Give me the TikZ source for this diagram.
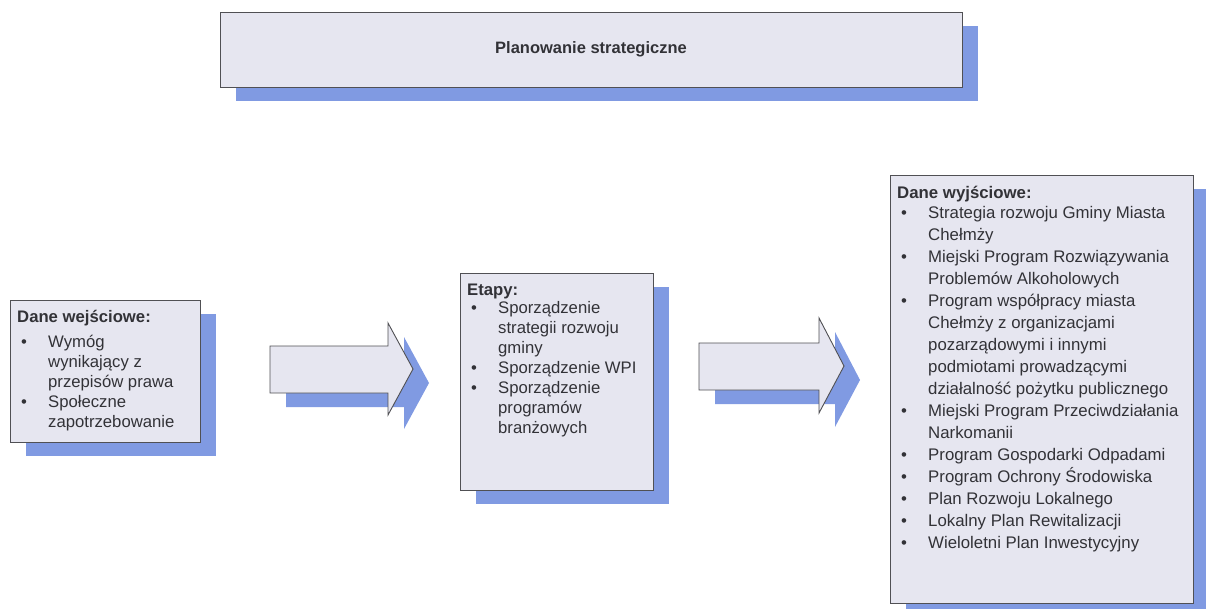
\documentclass[tikz,border=0pt]{standalone}
\usepackage{fontspec}
\setmainfont{Liberation Sans}
\usepackage{array}
\usetikzlibrary{positioning,calc,shadows}
\definecolor{boxfill}{RGB}{230,230,240}
\definecolor{shadowblue}{RGB}{128,154,226}
\definecolor{linegray}{RGB}{80,80,84}
\definecolor{textgray}{RGB}{50,50,55}
\newcommand{\blt}{\hspace{4pt}\textbullet}

\begin{document}
\begin{tikzpicture}[x=1pt, y=-1pt,
    panel/.style={draw=linegray, fill=boxfill, line width=0.9pt, inner sep=0pt,
      drop shadow={shadow xshift=16pt, shadow yshift=-14pt, fill=shadowblue, opacity=1}},
    list/.style={anchor=north west, inner sep=0pt, text=textgray, align=left,
      font=\fontsize{16.7pt}{20pt}\selectfont},
    blockarrow/.style={panel}]
    \useasboundingbox (0,0) rectangle (1206,608);

    \node[panel, minimum width=742pt, minimum height=75pt, text=textgray,
      font=\fontsize{16.5pt}{20pt}\selectfont\bfseries] (plan) at (591,49.5) {Planowanie strategiczne};

    % dane wejsciowe
    \node[panel, minimum width=190pt, minimum height=142pt, anchor=north west] (wej) at (10,300) {};
    \node[list] (wejtxt) at ($(wej.north west)+(7,8)$) {%
      \begin{tabular}{@{}p{31pt}@{}l@{}}
        \multicolumn{2}{@{}l@{}}{\bfseries Dane wejściowe:}\\[5pt]
        \blt & Wymóg\\
             & wynikający z\\
             & przepisów prawa\\
        \blt & Społeczne\\
             & zapotrzebowanie
      \end{tabular}};

    % etapy
    \node[panel, minimum width=193pt, minimum height=217pt, anchor=north west] (etapy) at (460,273) {};
    \node[list] (etapytxt) at ($(etapy.north west)+(7,8)$) {%
      \begin{tabular}{@{}p{31pt}@{}l@{}}
        \multicolumn{2}{@{}l@{}}{\bfseries Etapy:}\\[-2pt]
        \blt & Sporządzenie\\
             & strategii rozwoju\\
             & gminy\\
        \blt & Sporządzenie WPI\\
        \blt & Sporządzenie\\
             & programów\\
             & branżowych
      \end{tabular}};

    % dane wyjsciowe
    \node[panel, minimum width=303pt, minimum height=428pt, anchor=north west] (wyj) at (890,175) {};
    \node[list, font=\fontsize{16.8pt}{22pt}\selectfont] (wyjtxt) at ($(wyj.north west)+(7,8)$) {%
      \begin{tabular}{@{}p{31pt}@{}l@{}}
        \multicolumn{2}{@{}l@{}}{\bfseries Dane wyjściowe:}\\[-2pt]
        \blt & Strategia rozwoju Gminy Miasta\\
             & Chełmży\\
        \blt & Miejski Program Rozwiązywania\\
             & Problemów Alkoholowych\\
        \blt & Program współpracy miasta\\
             & Chełmży z organizacjami\\
             & pozarządowymi i innymi\\
             & podmiotami prowadzącymi\\
             & działalność pożytku publicznego\\
        \blt & Miejski Program Przeciwdziałania\\
             & Narkomanii\\
        \blt & Program Gospodarki Odpadami\\
        \blt & Program Ochrony Środowiska\\
        \blt & Plan Rozwoju Lokalnego\\
        \blt & Lokalny Plan Rewitalizacji\\
        \blt & Wieloletni Plan Inwestycyjny
      \end{tabular}};

    % strzalki
    \draw[blockarrow] (270,346) -- (388,346) -- (388,323) -- (413,369)
      -- (388,415) -- (388,393) -- (270,393) -- cycle;
    \draw[blockarrow] (699,343) -- (819,343) -- (819,318) -- (844,366)
      -- (819,413) -- (819,390) -- (699,390) -- cycle;
\end{tikzpicture}
\end{document}
